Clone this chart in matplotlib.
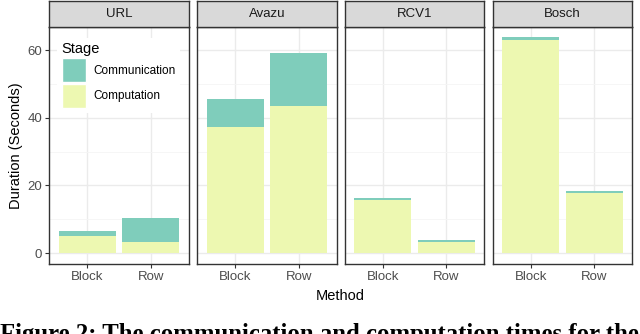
import matplotlib
matplotlib.use("Agg")
import matplotlib.pyplot as plt
from matplotlib.patches import Patch

plt.rcParams['font.family'] = ['Liberation Sans', 'DejaVu Sans']

datasets = ["URL", "Avazu", "RCV1", "Bosch"]
methods = ["Block", "Row"]
computation = {"URL": [5.2, 3.4], "Avazu": [37.4, 43.4], "RCV1": [15.7, 3.3], "Bosch": [63.1, 17.8]}
communication = {"URL": [1.4, 6.9], "Avazu": [8.0, 15.8], "RCV1": [0.5, 0.6], "Bosch": [0.6, 0.5]}

col_comm = "#7FCDBB"
col_comp = "#EDF8B1"

W, H = 640, 334
fig = plt.figure(figsize=(W / 100, H / 100), dpi=100)

lefts = [49.3, 197.3, 344.7, 492.7]
pw = 139.4
p_bot, p_top = 264, 27
s_top = 1

for i, name in enumerate(datasets):
    ax = fig.add_axes([lefts[i] / W, (H - p_bot) / H, pw / W, (p_bot - p_top) / H])
    x = range(len(methods))
    ax.bar(x, computation[name], width=0.9, color=col_comp, zorder=2)
    ax.bar(x, communication[name], width=0.9, bottom=computation[name], color=col_comm, zorder=2)
    ax.set_xlim(-0.6, 1.6)
    ax.set_ylim(-3.18, 66.8)
    ax.set_yticks([0, 20, 40, 60])
    ax.set_yticks([10, 30, 50], minor=True)
    ax.set_xticks(list(x))
    ax.set_xticklabels(methods)
    ax.grid(True, which="major", color="#EBEBEB", linewidth=1.0, zorder=0)
    ax.grid(True, which="minor", axis="y", color="#F5F5F5", linewidth=0.6, zorder=0)
    ax.set_axisbelow(True)
    for sp in ax.spines.values():
        sp.set_color("#333333")
        sp.set_linewidth(1.0)
    ax.tick_params(axis="both", which="major", length=3, color="#333333",
                   labelcolor="#4D4D4D", labelsize=9.5, pad=2)
    ax.tick_params(axis="y", which="minor", length=0)
    if i == 0:
        ax.set_ylabel("Duration (Seconds)", fontsize=10.5, labelpad=3)
    else:
        ax.tick_params(axis="y", which="major", left=False, labelleft=False)

    # facet strip
    sax = fig.add_axes([lefts[i] / W, (H - p_top) / H, pw / W, (p_top - s_top) / H])
    sax.set_facecolor("#D9D9D9")
    sax.set_xticks([])
    sax.set_yticks([])
    for sp in sax.spines.values():
        sp.set_color("#333333")
        sp.set_linewidth(1.0)
    sax.text(0.5, 0.5, name, ha="center", va="center", fontsize=9.5, color="#1A1A1A",
             transform=sax.transAxes)

    if i == 0:
        handles = [Patch(facecolor=col_comm, edgecolor="white", linewidth=1.0),
                   Patch(facecolor=col_comp, edgecolor="white", linewidth=1.0)]
        leg = ax.legend(handles, ["Communication", "Computation"], title="Stage",
                        loc="upper left", bbox_to_anchor=(0.055, 0.955),
                        fontsize=8.5, title_fontsize=10.5, frameon=True,
                        handlelength=2.05, handleheight=2.75, labelspacing=0.15,
                        handletextpad=0.6, borderpad=0.4, borderaxespad=0)
        leg.get_frame().set_facecolor("white")
        leg.get_frame().set_edgecolor("none")
        leg.get_frame().set_alpha(1.0)
        leg._legend_box.align = "left"

fig.text(0.5 * (lefts[0] + lefts[3] + pw) / W, (H - 296) / H, "Method",
         ha="center", va="center", fontsize=10.5)

fig.text(0.0, (H - 341) / H, "Figure 2: The communication and computation times for the",
         ha="left", va="baseline", fontsize=17.8, fontweight="bold",
         family=["Liberation Serif", "DejaVu Serif"])

fig.savefig("out.png", dpi=100)
